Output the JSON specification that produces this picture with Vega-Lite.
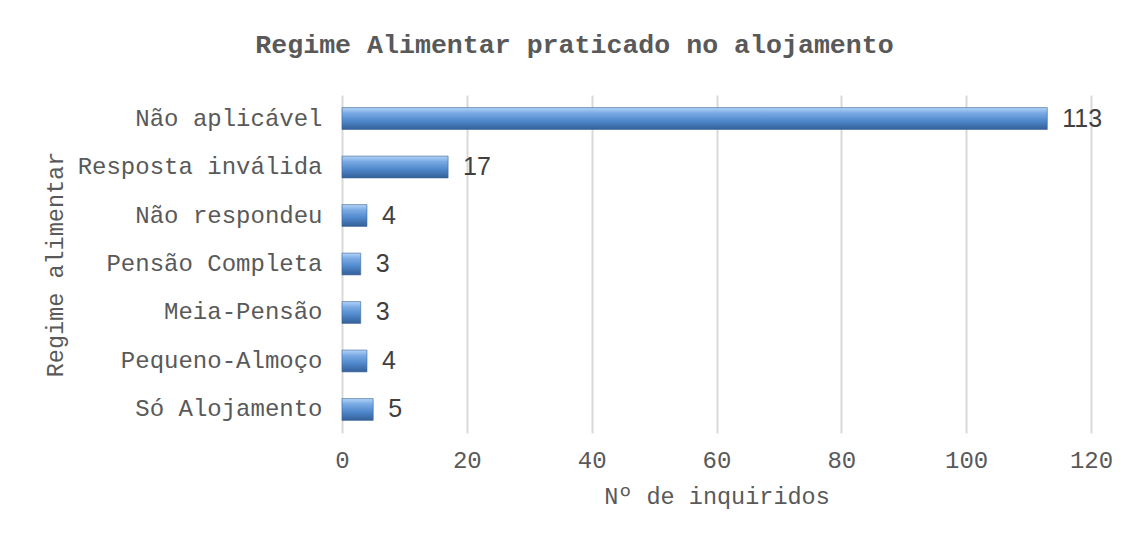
{
  "$schema": "https://vega.github.io/schema/vega-lite/v6.json",
  "width": 749,
  "height": 338,
  "autosize": {"type": "none"},
  "padding": {"left": 342, "top": 95, "right": 40, "bottom": 100},
  "background": "white",
  "title": {
    "text": "Regime Alimentar praticado no alojamento",
    "font": "Liberation Mono",
    "fontSize": 26.6,
    "fontWeight": "bold",
    "color": "#595959",
    "anchor": "middle",
    "frame": "group",
    "dx": -142,
    "offset": 36
  },
  "data": {
    "values": [
      {"regime": "Não aplicável", "n": 113},
      {"regime": "Resposta inválida", "n": 17},
      {"regime": "Não respondeu", "n": 4},
      {"regime": "Pensão Completa", "n": 3},
      {"regime": "Meia-Pensão", "n": 3},
      {"regime": "Pequeno-Almoço", "n": 4},
      {"regime": "Só Alojamento", "n": 5}
    ]
  },
  "encoding": {
    "y": {
      "field": "regime",
      "type": "nominal",
      "sort": null,
      "title": "Regime alimentar",
      "scale": {"paddingInner": 0.55, "paddingOuter": 0.26},
      "axis": {
        "labelFont": "Liberation Mono",
        "labelFontSize": 24,
        "labelColor": "#595959",
        "labelPadding": 20,
        "labelLimit": 500,
        "ticks": false,
        "domain": false,
        "titleFont": "Liberation Mono",
        "titleFontSize": 23.5,
        "titleFontWeight": "normal",
        "titleColor": "#595959",
        "titleX": -287,
        "titleY": 169,
        "titleAngle": -90,
        "titleAlign": "center",
        "titleBaseline": "middle"
      }
    },
    "x": {
      "field": "n",
      "type": "quantitative",
      "title": "Nº de inquiridos",
      "scale": {"domain": [0, 120]},
      "axis": {
        "values": [0, 20, 40, 60, 80, 100, 120],
        "labelFont": "Liberation Mono",
        "labelFontSize": 24,
        "labelColor": "#595959",
        "labelPadding": 15,
        "labelFlush": false,
        "ticks": false,
        "domain": false,
        "grid": true,
        "gridColor": "#d9d9d9",
        "gridWidth": 2,
        "titleFont": "Liberation Mono",
        "titleFontSize": 23.5,
        "titleFontWeight": "normal",
        "titleColor": "#595959",
        "titlePadding": 12
      }
    }
  },
  "layer": [
    {
      "mark": {
        "type": "bar",
        "stroke": "#3a6499",
        "strokeWidth": 0.6,
        "color": {
          "gradient": "linear",
          "x1": 0, "y1": 0, "x2": 0, "y2": 1,
          "stops": [
            {"offset": 0, "color": "#b3d4f7"},
            {"offset": 0.25, "color": "#7aaae4"},
            {"offset": 0.6, "color": "#5089cc"},
            {"offset": 1, "color": "#335f98"}
          ]
        }
      }
    },
    {
      "mark": {
        "type": "text",
        "align": "left",
        "baseline": "middle",
        "dx": 15,
        "font": "Liberation Sans",
        "fontSize": 25,
        "color": "#404040"
      },
      "encoding": {"text": {"field": "n", "type": "quantitative"}}
    }
  ],
  "config": {"view": {"stroke": null}}
}
